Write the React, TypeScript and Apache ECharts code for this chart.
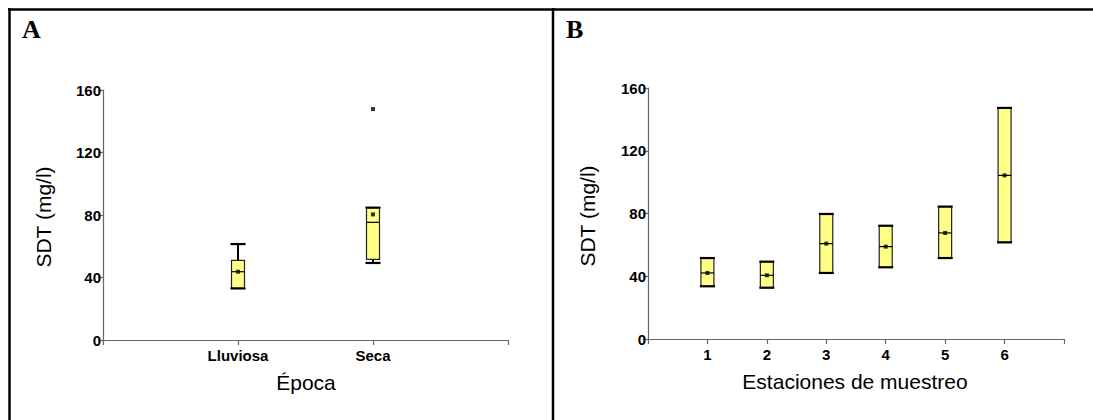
import React, { useEffect, useRef } from "react";
import * as echarts from "echarts";

// Panel A: época
const catsA = ["Lluviosa", "Seca"];
const lowA = [33, 49.3];
const q1A = [33, 51.6];
const medA = [43.7, 75.3];
const q3A = [51, 84.7];
const highA = [61.4, 84.7];
const meanA = [43.7, 80.4];
const outlierCatA = ["Seca"];
const outlierValA = [147.8];

// Panel B: estaciones de muestreo
const catsB = ["1", "2", "3", "4", "5", "6"];
const minB = [33.6, 32.7, 42.1, 45.7, 51.6, 61.6];
const maxB = [51.6, 49.3, 79.7, 72.2, 84.4, 147.3];
const meanB = [42.1, 40.6, 60.8, 58.9, 67.6, 104.3];

const yTicks = { min: 0, max: 160, interval: 40 };

const FILL = "#ffff88";
const SANS = '"Liberation Sans", Arial, sans-serif';

function renderBox(params: any, api: any) {
  const x = api.value(0);
  const low = api.coord([x, api.value(1)]);
  const q1 = api.coord([x, api.value(2)]);
  const med = api.coord([x, api.value(3)]);
  const q3 = api.coord([x, api.value(4)]);
  const high = api.coord([x, api.value(5)]);
  const bw = 13;
  const cw = 15;
  const cx = q1[0];
  const children: any[] = [];
  if (Math.abs(high[1] - q3[1]) > 0.5) {
    children.push({
      type: "line",
      shape: { x1: cx, y1: high[1], x2: cx, y2: q3[1] },
      style: { stroke: "#000", lineWidth: 2 },
    });
  }
  if (Math.abs(low[1] - q1[1]) > 0.5) {
    children.push({
      type: "line",
      shape: { x1: cx, y1: low[1], x2: cx, y2: q1[1] },
      style: { stroke: "#000", lineWidth: 2 },
    });
  }
  children.push({
    type: "rect",
    shape: { x: cx - bw / 2, y: q3[1], width: bw, height: q1[1] - q3[1] },
    style: { fill: FILL, stroke: "#222", lineWidth: 1.2 },
  });
  children.push({
    type: "line",
    shape: { x1: cx - bw / 2, y1: med[1], x2: cx + bw / 2, y2: med[1] },
    style: { stroke: "#000", lineWidth: 1.2 },
  });
  children.push({
    type: "line",
    shape: { x1: cx - cw / 2, y1: high[1], x2: cx + cw / 2, y2: high[1] },
    style: { stroke: "#000", lineWidth: 2.2 },
  });
  children.push({
    type: "line",
    shape: { x1: cx - cw / 2, y1: low[1], x2: cx + cw / 2, y2: low[1] },
    style: { stroke: "#000", lineWidth: 2.2 },
  });
  return { type: "group", children };
}

function xAxisFor(gridIndex: number, cats: string[]) {
  return {
    type: "value",
    gridIndex,
    min: 0,
    max: cats.length + 1,
    interval: 1,
    splitLine: { show: false },
    axisLine: { lineStyle: { color: "#666", width: 1.2 } },
    axisTick: { length: 5, lineStyle: { color: "#666", width: 1.2 } },
    axisLabel: {
      margin: 8,
      color: "#000",
      fontFamily: SANS,
      fontWeight: "bold",
      fontSize: 15,
      showMinLabel: true,
      showMaxLabel: true,
      formatter: (v: number) => (v >= 1 && v <= cats.length ? cats[v - 1] : ""),
    },
  };
}

function yAxisFor(gridIndex: number) {
  return {
    type: "value",
    gridIndex,
    min: yTicks.min,
    max: yTicks.max,
    interval: yTicks.interval,
    splitLine: { show: false },
    axisLine: { show: true, lineStyle: { color: "#666", width: 1.2 } },
    axisTick: { show: true, length: 5, lineStyle: { color: "#666", width: 1.2 } },
    axisLabel: {
      margin: 2,
      color: "#000",
      fontFamily: SANS,
      fontWeight: "bold",
      fontSize: 15,
    },
  };
}

export default function App() {
  const ref = useRef<HTMLDivElement>(null);
  useEffect(() => {
    document.body.style.margin = "0";
    const chart = echarts.init(ref.current!, null, { renderer: "svg" });

    const boxA = catsA.map((_, i) => [i + 1, lowA[i], q1A[i], medA[i], q3A[i], highA[i]]);
    const boxB = catsB.map((_, i) => [i + 1, minB[i], minB[i], meanB[i], maxB[i], maxB[i]]);
    const meanPtsA = catsA.map((_, i) => [i + 1, meanA[i]]);
    const outPtsA = outlierCatA.map((c, i) => [catsA.indexOf(c) + 1, outlierValA[i]]);
    const meanPtsB = catsB.map((_, i) => [i + 1, meanB[i]]);

    const lineStyle = { stroke: "#000", lineWidth: 2.5 };

    chart.setOption({
      animation: false,
      backgroundColor: "#fff",
      grid: [
        { left: 103, top: 90, width: 405, height: 250 },
        { left: 648, top: 88, width: 416, height: 251 },
      ],
      xAxis: [xAxisFor(0, catsA), xAxisFor(1, catsB)],
      yAxis: [yAxisFor(0), yAxisFor(1)],
      series: [
        {
          type: "custom",
          xAxisIndex: 0,
          yAxisIndex: 0,
          renderItem: renderBox,
          encode: { x: 0, y: [1, 2, 3, 4, 5] },
          data: boxA,
          z: 2,
        },
        {
          type: "scatter",
          xAxisIndex: 0,
          yAxisIndex: 0,
          symbol: "rect",
          symbolSize: 4,
          itemStyle: { color: "#000" },
          data: meanPtsA.concat(outPtsA),
          z: 3,
        },
        {
          type: "custom",
          xAxisIndex: 1,
          yAxisIndex: 1,
          renderItem: renderBox,
          encode: { x: 0, y: [1, 2, 3, 4, 5] },
          data: boxB,
          z: 2,
        },
        {
          type: "scatter",
          xAxisIndex: 1,
          yAxisIndex: 1,
          symbol: "rect",
          symbolSize: 4,
          itemStyle: { color: "#000" },
          data: meanPtsB,
          z: 3,
        },
      ],
      graphic: [
        { type: "line", shape: { x1: 8, y1: 9.5, x2: 1093, y2: 9.5 }, style: lineStyle },
        { type: "line", shape: { x1: 9.5, y1: 8, x2: 9.5, y2: 420 }, style: lineStyle },
        { type: "line", shape: { x1: 553, y1: 8, x2: 553, y2: 420 }, style: lineStyle },
        {
          type: "text",
          x: 22,
          y: 29,
          style: {
            text: "A",
            font: 'bold 26px "Liberation Serif", "Times New Roman", serif',
            fill: "#000",
            verticalAlign: "middle",
          },
        },
        {
          type: "text",
          x: 566,
          y: 29,
          style: {
            text: "B",
            font: 'bold 26px "Liberation Serif", "Times New Roman", serif',
            fill: "#000",
            verticalAlign: "middle",
          },
        },
        {
          type: "text",
          x: 43,
          y: 217,
          rotation: Math.PI / 2,
          style: {
            text: "SDT (mg/l)",
            font: '21px "Liberation Sans", Arial, sans-serif',
            fill: "#000",
            align: "center",
            verticalAlign: "middle",
          },
        },
        {
          type: "text",
          x: 587,
          y: 216,
          rotation: Math.PI / 2,
          style: {
            text: "SDT (mg/l)",
            font: '21px "Liberation Sans", Arial, sans-serif',
            fill: "#000",
            align: "center",
            verticalAlign: "middle",
          },
        },
        {
          type: "text",
          x: 306,
          y: 382,
          style: {
            text: "Época",
            font: '21px "Liberation Sans", Arial, sans-serif',
            fill: "#000",
            align: "center",
            verticalAlign: "middle",
          },
        },
        {
          type: "text",
          x: 855,
          y: 381,
          style: {
            text: "Estaciones de muestreo",
            font: '21px "Liberation Sans", Arial, sans-serif',
            fill: "#000",
            align: "center",
            verticalAlign: "middle",
          },
        },
      ],
    });
    return () => chart.dispose();
  }, []);
  return <div ref={ref} style={{ width: 1093, height: 420 }} />;
}
